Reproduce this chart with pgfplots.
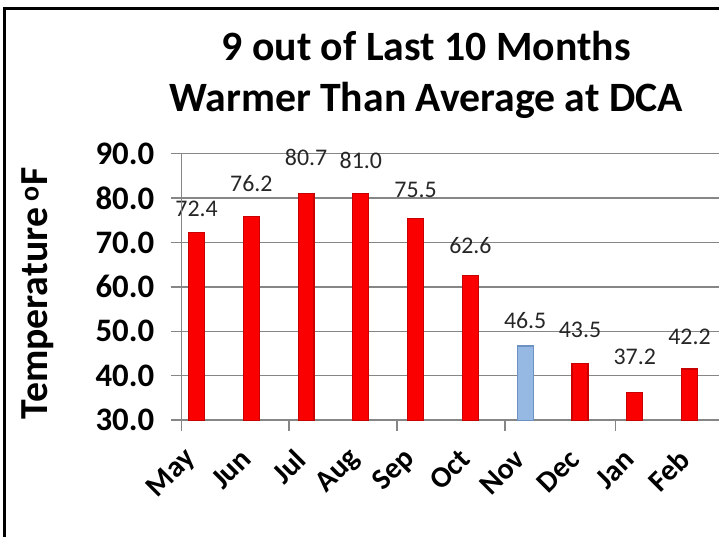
\documentclass[border=0pt]{standalone}
\usepackage{pgfplots}
\pgfplotsset{compat=1.18}
\usepackage{fontspec}
\setmainfont{Carlito}
\definecolor{gridgray}{RGB}{134,134,134}
\definecolor{barred}{RGB}{250,0,0}
\definecolor{barreddark}{RGB}{200,0,0}
\definecolor{barblue}{RGB}{150,185,228}
\definecolor{barbluedark}{RGB}{110,145,195}
\begin{document}
\begin{tikzpicture}[x=1bp,y=1bp]
\path (0,0) rectangle (720,538);
\draw[line width=3bp] (5,0) -- (5,529) -- (720,529);
\node[font=\fontsize{42}{52}\selectfont\bfseries, align=center] at (427,463) {9 out of Last 10 Months\\Warmer Than Average at DCA};
\node[font=\fontsize{40}{46}\selectfont\bfseries, rotate=90] at (38,244) {Temperature\,\textsuperscript{o}F};
\begin{axis}[
  at={(182bp,117bp)}, anchor=south west, scale only axis,
  width=538bp, height=267bp,
  xmin=-0.273, xmax=9.53, ymin=30, ymax=90,
  axis line style={draw=none},
  tick pos=left,
  ytick={30,40,...,90},
  ymajorgrids, grid style={draw=gridgray, line width=1.5bp},
  tick align=outside, major tick length=11bp,
  tick style={draw=gridgray, line width=1.5bp},
  /pgf/number format/assume math mode=true,
  tick label style={font=\fontsize{33}{36}\selectfont\bfseries},
  y tick label style={xshift=-13bp, /pgf/number format/.cd, fixed, fixed zerofill, precision=1},
  xtick={-0.273,1.69,3.66,5.63,7.65}, xticklabels={},
  extra x ticks={0,1,2,3,4,5,6,7,8,9},
  extra x tick labels={May,Jun,Jul,Aug,Sep,Oct,Nov,Dec,Jan,Feb},
  extra x tick style={major tick length=0pt, tick label style={xshift=-3bp, yshift=-32bp, rotate=45, anchor=east, font=\fontsize{30}{34}\selectfont\bfseries}},
  clip=false,
  after end axis/.code={\draw[gridgray, line width=1.5bp] (rel axis cs:0,0) -- (rel axis cs:0,1);},
]
\addplot[ybar, bar width=16bp, bar shift=0pt, fill=barred, draw=barreddark, line width=1.2bp]
  coordinates {(0,72.3) (1,75.9) (2,81.0) (3,81.0) (4,75.4) (5,62.5) (7,42.8) (8,36.2) (9,41.5)};
\addplot[ybar, bar width=16bp, bar shift=0pt, fill=barblue, draw=barbluedark, line width=1.2bp]
  coordinates {(6,46.7)};
\addplot[draw=none, mark=none, nodes near coords, point meta=explicit symbolic,
  every node near coord/.append style={anchor=center, font=\fontsize{24}{28}\selectfont, text=black!85}]
  table[meta=label] {
x y label
0 77.6 72.4
1 83.3 76.2
2 89.1 80.7
3 88.4 81.0
4 81.9 75.5
5 69.3 62.6
6 52.5 46.5
7 50.4 43.5
8 44.2 37.2
9 48.7 42.2
};
\end{axis}
\end{tikzpicture}
\end{document}
